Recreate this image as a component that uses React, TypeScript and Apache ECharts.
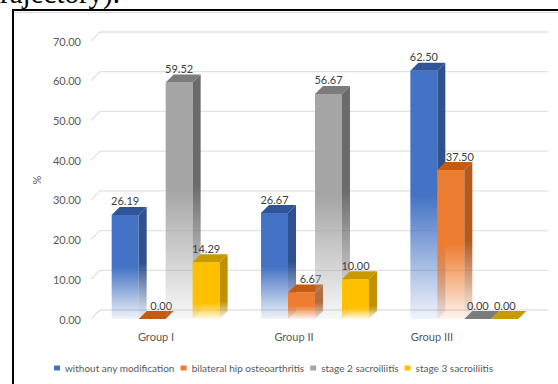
import React, { useEffect, useRef } from 'react';
import * as echarts from 'echarts';

// Groups along the category axis
const categories = ['Group I', 'Group II', 'Group III'];

// Series names, in legend order
const seriesNames = [
  'without any modification',
  'bilateral hip osteoarthritis',
  'stage 2 sacroiliitis',
  'stage 3 sacroiliitis',
];

// Percentages per group
const withoutModification = [26.19, 26.67, 62.5];
const hipOsteoarthritis = [0.0, 6.67, 37.5];
const stage2Sacroiliitis = [59.52, 56.67, 0.0];
const stage3Sacroiliitis = [14.29, 10.0, 0.0];

// Value-axis ticks (also used for the back-wall grid lines)
const yTicks = [0, 10, 20, 30, 40, 50, 60, 70];

const seriesValues = [withoutModification, hipOsteoarthritis, stage2Sacroiliitis, stage3Sacroiliitis];

// Face colours of each 3D column series
const palettes = [
  { front: '#4472c4', side: '#2f528f', top: '#2f5597', fadeFrom: 0.5, labelDx: 0 },
  { front: '#ed7d31', side: '#b45a1f', top: '#c55a11', fadeFrom: 0.5, labelDx: 9 },
  { front: '#a5a5a5', side: '#6b6b6b', top: '#7b7b7b', fadeFrom: 0.45, labelDx: 0 },
  { front: '#ffc000', side: '#bf9000', top: '#c99a00', fadeFrom: 0.72, labelDx: 0 },
];

const DEPTH = 8; // column depth (px), drawn up and to the right
const WALL = 9; // offset of the back wall from the front plane
const GROUP_FILL = 0.723; // share of each category band covered by its columns
const FONT = 'Lato, "Noto Sans", sans-serif';
const AXIS_TEXT = '#595959';

function withAlpha(hex: string, a: number) {
  const n = parseInt(hex.slice(1), 16);
  return `rgba(${(n >> 16) & 255},${(n >> 8) & 255},${n & 255},${a})`;
}

function fade(color: string, from: number) {
  return new echarts.graphic.LinearGradient(0, 0, 0, 1, [
    { offset: 0, color },
    { offset: from, color },
    { offset: 1, color: withAlpha(color, 0.08) },
  ]);
}

function columnSeries(s: number) {
  const p = palettes[s];
  return {
    type: 'custom',
    name: seriesNames[s],
    xAxisIndex: 0,
    yAxisIndex: 0,
    itemStyle: { color: p.front },
    data: seriesValues[s].map((v, i) => [i, v]),
    z: 2,
    renderItem: (_params: any, api: any) => {
      const idx = api.value(0);
      const v = api.value(1);
      const [cx, yTop] = api.coord([idx, v]);
      const y0 = api.coord([idx, 0])[1];
      const band = api.size([1, 0])[0];
      const w = (band * GROUP_FILL) / 4;
      const x = cx - (band * GROUP_FILL) / 2 + s * w;
      const h = y0 - yTop;
      const children: any[] = [];
      if (h > 0.5) {
        children.push({
          type: 'rect',
          shape: { x, y: yTop, width: w, height: h },
          style: { fill: fade(p.front, p.fadeFrom) },
        });
        children.push({
          type: 'polygon',
          shape: {
            points: [
              [x + w, yTop],
              [x + w + DEPTH, yTop - DEPTH],
              [x + w + DEPTH, y0 - DEPTH],
              [x + w, y0],
            ],
          },
          style: { fill: fade(p.side, p.fadeFrom) },
        });
      }
      children.push({
        type: 'polygon',
        shape: {
          points: [
            [x, yTop],
            [x + DEPTH, yTop - DEPTH],
            [x + w + DEPTH, yTop - DEPTH],
            [x + w, yTop],
          ],
        },
        style: { fill: p.top },
      });
      children.push({
        type: 'text',
        style: {
          text: v.toFixed(2),
          x: x + w / 2 + p.labelDx,
          y: yTop - 14,
          textAlign: 'center',
          textVerticalAlign: 'middle',
          font: `11px ${FONT}`,
          fill: '#404040',
        },
      });
      return { type: 'group', children };
    },
  };
}

export default function App() {
  const ref = useRef<HTMLDivElement>(null);

  useEffect(() => {
    if (!ref.current) return;
    const chart = echarts.init(ref.current, undefined, { renderer: 'svg' });

    const wallSeries = {
      type: 'custom',
      xAxisIndex: 0,
      yAxisIndex: 0,
      silent: true,
      z: 1,
      data: yTicks.map((t) => [0, t]),
      renderItem: (params: any, api: any) => {
        const cs = params.coordSys;
        const y = api.coord([0, api.value(1)])[1];
        return {
          type: 'polyline',
          shape: {
            points: [
              [cs.x, y],
              [cs.x + WALL, y - WALL],
              [cs.x + cs.width + WALL, y - WALL],
            ],
          },
          style: { stroke: '#e2e2e2', lineWidth: 1.3, fill: null },
        };
      },
    };

    chart.setOption({
      animation: false,
      backgroundColor: '#ffffff',
      textStyle: { fontFamily: FONT },
      grid: [
        { left: 91, top: 41, width: 448, height: 278 },
        { left: 87, top: 41, width: 414, height: 278 },
      ],
      xAxis: [
        {
          gridIndex: 0,
          type: 'category',
          data: categories,
          axisLine: { show: false },
          axisTick: { show: false },
          axisLabel: { show: false },
          splitLine: { show: false },
        },
        {
          gridIndex: 1,
          type: 'category',
          data: categories,
          axisLine: { show: false },
          axisTick: { show: false },
          axisLabel: { color: AXIS_TEXT, fontSize: 11, fontFamily: FONT, margin: 12 },
          splitLine: { show: false },
        },
      ],
      yAxis: [
        {
          gridIndex: 0,
          type: 'value',
          min: 0,
          max: 70,
          interval: 10,
          name: '%',
          nameLocation: 'middle',
          nameGap: 46,
          nameRotate: 90,
          nameTextStyle: { color: AXIS_TEXT, fontSize: 11, fontFamily: FONT },
          axisLine: { show: false },
          axisTick: { show: false },
          splitLine: { show: false },
          axisLabel: {
            color: AXIS_TEXT,
            fontSize: 11,
            fontFamily: FONT,
            margin: 10,
            formatter: (v: number) => v.toFixed(2),
          },
        },
        { gridIndex: 1, type: 'value', min: 0, max: 1, show: false },
      ],
      legend: {
        data: seriesNames,
        left: 49,
        top: 358,
        icon: 'rect',
        itemWidth: 6,
        itemHeight: 5,
        itemGap: 6,
        textStyle: { color: AXIS_TEXT, fontSize: 10, fontFamily: FONT },
        selectedMode: false,
      },
      graphic: [
        {
          type: 'text',
          z: 10,
          style: {
            text: 'trajectory).',
            x: -8,
            y: -7,
            font: '29px "Liberation Serif", serif',
            fill: '#000000',
            textVerticalAlign: 'middle',
          },
        },
        {
          type: 'line',
          z: 10,
          shape: { x1: 12, y1: 10, x2: 558, y2: 10 },
          style: { stroke: '#000000', lineWidth: 2 },
        },
        {
          type: 'line',
          z: 10,
          shape: { x1: 13, y1: 9, x2: 13, y2: 384 },
          style: { stroke: '#000000', lineWidth: 2 },
        },
        {
          type: 'line',
          z: 10,
          shape: { x1: 14, y1: 12.5, x2: 558, y2: 12.5 },
          style: { stroke: '#d9d9d9', lineWidth: 1 },
        },
      ],
      series: [wallSeries, ...seriesNames.map((_, s) => columnSeries(s))],
    });

    return () => chart.dispose();
  }, []);

  return (
    <div
      ref={ref}
      style={{ position: 'fixed', left: 0, top: 0, width: 558, height: 384 }}
    />
  );
}
